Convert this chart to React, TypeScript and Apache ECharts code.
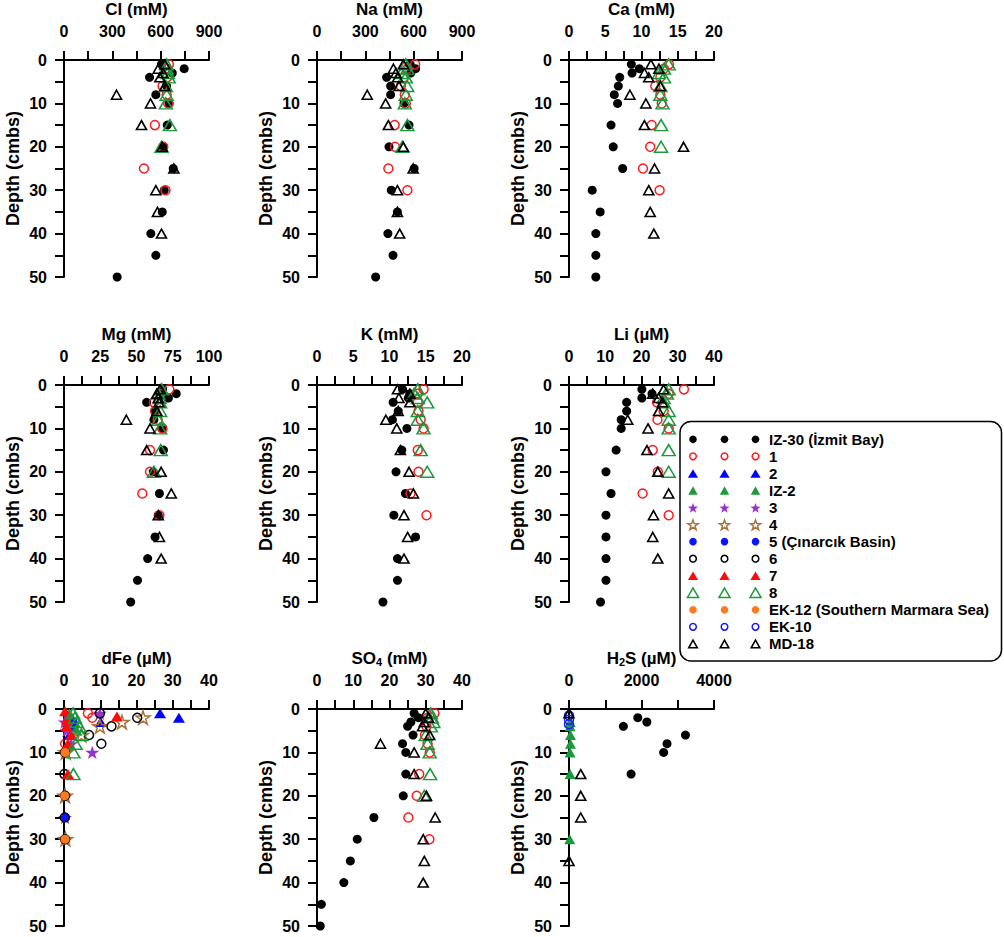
import React, { useEffect, useRef } from "react";
import * as echarts from "echarts";

const FONT = '"Liberation Sans", Arial, Helvetica, sans-serif';

// ---------------- station names (legend order) ----------------
const stationNames = [
  "IZ-30 (İzmit Bay)",
  "1",
  "2",
  "IZ-2",
  "3",
  "4",
  "5 (Çınarcık Basin)",
  "6",
  "7",
  "8",
  "EK-12 (Southern Marmara Sea)",
  "EK-10",
  "MD-18",
];

// ---------------- IZ-30 ----------------
const iz30Depth = [1, 2, 3, 4, 6, 8, 10, 15, 20, 25, 30, 35, 40, 45, 50];
const iz30Cl = [605, 746, 672, 531, 637, 570, 653, 641, 616, 678, 622, 610, 539, 570, 330];
const iz30Na = [578, 612, 582, 432, 457, 457, 540, 571, 447, 603, 461, 499, 440, 472, 364];
const iz30Ca = [8.6, 9.7, 8.7, 7.0, 6.8, 6.25, 6.7, 5.8, 6.1, 7.4, 3.2, 4.3, 3.7, 3.7, 3.7];
const iz30Mg = [68, 77.4, 72, 57, 62.8, 62, 67.4, 68.6, 61.6, 65.8, 65, 62.8, 57.7, 50.7, 46];
const iz30K = [11.8, 12.8, 12.6, 10.5, 11.2, 10.4, 12.4, 11.7, 10.9, 12.2, 10.6, 13.6, 11.1, 11.1, 9.1];
const iz30Li = [20.1, 22.9, 20.1, 15.9, 15.9, 14.4, 14.4, 13.0, 10.2, 11.6, 10.2, 10.2, 10.2, 10.2, 8.7];
const iz30SO4 = [26.8, 28.0, 25.9, 25.0, 26.5, 23.6, 24.5, 24.5, 23.8, 15.7, 11.1, 9.2, 7.4, 1.2, 0.9];
const iz30H2SDepth = [2, 3, 4, 6, 8, 10, 15];
const iz30H2S = [1898, 2148, 1500, 3213, 2704, 2611, 1713];

// ---------------- station 1 ----------------
const st1Depth = [1, 2, 4, 6, 8, 10, 15, 20, 25, 30];
const st1Cl = [651, 637, 640, 612, 637, 647, 564, 616, 496, 630];
const st1Na = [609, 560, 540, 520, 545, 551, 482, 484, 443, 561];
const st1Ca = [13.8, 13.1, 12.6, 11.9, 12.6, 12.8, 11.4, 11.2, 10.2, 12.5];
const st1Mg = [72.6, 66, 62, 62.8, 64.6, 67.9, 59.3, 59.3, 54, 65.8];
const st1K = [14.7, 13.9, 13.9, 14.0, 14.3, 14.7, 13.9, 14.0, 12.9, 15.1];
const st1Li = [31.7, 27.5, 24.3, 26.1, 24.4, 27.5, 23.1, 24.5, 20.3, 27.5];
const st1SO4 = [32.4, 30.5, 30.2, 29.8, 30.5, 31.1, 28.2, 27.5, 25.2, 31.0];
const st1FeDepth = [1, 2, 3, 8];
const st1Fe = [6.6, 7.8, 1.0, 0.3];

// ---------------- station 2 ----------------
const st2FeDepth = [1, 2, 3, 4, 6];
const st2Fe = [26.5, 31.7, 10.1, 2.5, 1.5];

// ---------------- IZ-2 ----------------
const iz2FeDepth = [1, 2, 3, 5];
const iz2Fe = [1.5, 2.2, 3.0, 3.6];
const iz2H2SDepth = [3, 4, 6, 8, 10, 15, 30];
const iz2H2S = [30, 30, 40, 40, 30, 30, 20];

// ---------------- station 3 ----------------
const st3FeDepth = [1, 3, 5, 8, 10, 25];
const st3Fe = [9.9, 0.2, 0.7, 2.0, 7.8, 0.3];

// ---------------- station 4 ----------------
const st4FeDepth = [2, 3, 4, 6, 10, 20, 30];
const st4Fe = [21.8, 16.0, 9.9, 4.8, 0.5, 0.3, 0.4];

// ---------------- station 5 ----------------
const st5FeDepth = [3, 25];
const st5Fe = [2.5, 0.4];

// ---------------- station 6 ----------------
const st6FeDepth = [1, 2, 4, 6, 8, 10, 15, 20, 25, 30];
const st6Fe = [9.9, 20.2, 13.1, 6.9, 10.3, 0.3, 0.1, 0.3, 0.2, 0.3];

// ---------------- station 7 ----------------
const st7FeDepth = [0.5, 1.7, 2.5, 4, 6, 8, 15];
const st7Fe = [0.3, 14.6, 0.8, 0.7, 2.0, 1.1, 1.1];

// ---------------- station 8 ----------------
const st8Depth = [1, 2, 3, 4, 6, 8, 10, 15, 20];
const st8Cl = [637, 637, 645, 650, 632, 637, 632, 657, 605];
const st8Na = [551, 560, 525, 551, 560, 551, 545, 561, 530];
const st8Ca = [13.75, 13.1, 12.4, 13.1, 12.6, 12.6, 12.9, 12.7, 12.7];
const st8Mg = [67.4, 65, 66, 66.3, 66.3, 65, 66.3, 66.7, 62];
const st8K = [13.9, 13.4, 13.9, 15.2, 13.9, 13.9, 14.7, 14.3, 15.2];
const st8Li = [27.5, 27.0, 26.1, 26.1, 27.5, 27.5, 27.5, 27.5, 27.5];
const st8SO4 = [31.4, 31.7, 32.1, 31.4, 30.0, 30.5, 31.1, 31.2, 29.6];
const st8FeDepth = [1, 2, 3, 4, 6, 8, 10, 15];
const st8Fe = [2.5, 3.0, 3.5, 4.2, 4.8, 3.2, 2.6, 2.6];

// ---------------- EK-12 ----------------
const ek12FeDepth = [10, 20, 30];
const ek12Fe = [0.3, 0.2, 0.3];

// ---------------- EK-10 ----------------
const ek10H2SDepth = [1.5, 2.5, 3.5];
const ek10H2S = [0, 0, 0];

// ---------------- MD-18 ----------------
const md18Depth = [1, 2, 3, 4, 6, 8, 10, 15, 20, 25, 30, 35, 40];
const md18Cl = [626, 585, 615, 595, 626, 326, 537, 481, 610, 682, 570, 580, 605];
const md18Na = [536, 474, 490, 500, 509, 312, 426, 443, 536, 597, 499, 499, 513];
const md18Ca = [11.3, 12.4, 10.4, 11.0, 12.6, 8.4, 10.6, 10.4, 15.8, 11.8, 11.0, 11.2, 11.7];
const md18Mg = [66.3, 64, 65, 65.5, 64, 43, 59.3, 57, 67, 74, 65, 65.8, 67];
const md18K = [11.1, 12.8, 11.3, 12.8, 11.2, 9.5, 11.0, 11.5, 12.7, 13.3, 12.0, 12.5, 12.0];
const md18Li = [26.1, 23.1, 24.7, 25.8, 24.7, 16.2, 21.8, 21.5, 24.5, 27.5, 23.3, 23.1, 24.5];
const md18SO4 = [30.0, 30.8, 29.6, 29.1, 31.1, 17.5, 26.8, 26.8, 30.2, 32.6, 29.3, 29.6, 29.3];
const md18H2SDepth = [1, 15, 20, 25, 35];
const md18H2S = [0, 324, 324, 324, 0];

// ---------------- panels ----------------
const panelTitles = ["Cl (mM)", "Na (mM)", "Ca (mM)", "Mg (mM)", "K (mM)", "Li (µM)", "dFe (µM)", "SO{sub|4} (mM)", "H{sub|2}S (µM)"];
const panelMax = [900, 900, 20, 100, 20, 40, 40, 40, 4000];
const panelInterval = [300, 300, 5, 25, 5, 10, 10, 10, 2000];
const depthTicks = { min: 0, max: 50, interval: 10 };

// [panelIndex, station, values, depths]
const seriesTable: [number, string, number[], number[]][] = [
  [0, "IZ-30 (İzmit Bay)", iz30Cl, iz30Depth],
  [0, "1", st1Cl, st1Depth],
  [0, "8", st8Cl, st8Depth],
  [0, "MD-18", md18Cl, md18Depth],
  [1, "IZ-30 (İzmit Bay)", iz30Na, iz30Depth],
  [1, "1", st1Na, st1Depth],
  [1, "8", st8Na, st8Depth],
  [1, "MD-18", md18Na, md18Depth],
  [2, "IZ-30 (İzmit Bay)", iz30Ca, iz30Depth],
  [2, "1", st1Ca, st1Depth],
  [2, "8", st8Ca, st8Depth],
  [2, "MD-18", md18Ca, md18Depth],
  [3, "IZ-30 (İzmit Bay)", iz30Mg, iz30Depth],
  [3, "1", st1Mg, st1Depth],
  [3, "8", st8Mg, st8Depth],
  [3, "MD-18", md18Mg, md18Depth],
  [4, "IZ-30 (İzmit Bay)", iz30K, iz30Depth],
  [4, "1", st1K, st1Depth],
  [4, "8", st8K, st8Depth],
  [4, "MD-18", md18K, md18Depth],
  [5, "IZ-30 (İzmit Bay)", iz30Li, iz30Depth],
  [5, "1", st1Li, st1Depth],
  [5, "8", st8Li, st8Depth],
  [5, "MD-18", md18Li, md18Depth],
  [6, "1", st1Fe, st1FeDepth],
  [6, "2", st2Fe, st2FeDepth],
  [6, "IZ-2", iz2Fe, iz2FeDepth],
  [6, "3", st3Fe, st3FeDepth],
  [6, "4", st4Fe, st4FeDepth],
  [6, "5 (Çınarcık Basin)", st5Fe, st5FeDepth],
  [6, "6", st6Fe, st6FeDepth],
  [6, "7", st7Fe, st7FeDepth],
  [6, "8", st8Fe, st8FeDepth],
  [6, "EK-12 (Southern Marmara Sea)", ek12Fe, ek12FeDepth],
  [7, "IZ-30 (İzmit Bay)", iz30SO4, iz30Depth],
  [7, "1", st1SO4, st1Depth],
  [7, "8", st8SO4, st8Depth],
  [7, "MD-18", md18SO4, md18Depth],
  [8, "IZ-30 (İzmit Bay)", iz30H2S, iz30H2SDepth],
  [8, "IZ-2", iz2H2S, iz2H2SDepth],
  [8, "EK-10", ek10H2S, ek10H2SDepth],
  [8, "MD-18", md18H2S, md18H2SDepth],
];

// ---------------- marker styles ----------------
const STAR_PATH =
  "path://M50,2 L61.23,36.55 L97.55,36.55 L68.17,57.9 L79.39,92.45 L50,71.1 L20.61,92.45 L31.83,57.9 L2.45,36.55 L38.77,36.55 Z";

type MStyle = { shape: "circle" | "triangle" | "star"; w: number; h: number; fill: string | null; stroke: string | null; lw: number };
const markerStyles: Record<string, MStyle> = {
  "IZ-30 (İzmit Bay)": { shape: "circle", w: 9, h: 9, fill: "#000000", stroke: null, lw: 0 },
  "1": { shape: "circle", w: 9, h: 9, fill: null, stroke: "#ff1a1a", lw: 1.5 },
  "2": { shape: "triangle", w: 12, h: 10, fill: "#0000ff", stroke: null, lw: 0 },
  "IZ-2": { shape: "triangle", w: 11, h: 10, fill: "#1a9a3c", stroke: null, lw: 0 },
  "3": { shape: "star", w: 14, h: 14, fill: "#9a2fd0", stroke: null, lw: 0 },
  "4": { shape: "star", w: 14, h: 14, fill: null, stroke: "#a8743c", lw: 1.5 },
  "5 (Çınarcık Basin)": { shape: "circle", w: 9, h: 9, fill: "#0a14ff", stroke: null, lw: 0 },
  "6": { shape: "circle", w: 9, h: 9, fill: null, stroke: "#000000", lw: 1.5 },
  "7": { shape: "triangle", w: 12, h: 10, fill: "#ff0a0a", stroke: null, lw: 0 },
  "8": { shape: "triangle", w: 13, h: 11, fill: null, stroke: "#1a9a3c", lw: 1.5 },
  "EK-12 (Southern Marmara Sea)": { shape: "circle", w: 9, h: 9, fill: "#ff7a1f", stroke: null, lw: 0 },
  "EK-10": { shape: "circle", w: 9, h: 9, fill: null, stroke: "#1a1aff", lw: 1.5 },
  "MD-18": { shape: "triangle", w: 10, h: 9, fill: null, stroke: "#000000", lw: 1.6 },
};

// ---------------- layout ----------------
const colLeft = [64, 317, 569];
const colWidth = 145;
const rowTop = [60, 385, 709];
const rowHeight = 217;

function symbolOf(s: MStyle) {
  if (s.shape === "star") return STAR_PATH;
  return s.shape;
}

function legendMarker(s: MStyle, cx: number, cy: number, scale: number) {
  const style: any = {
    fill: s.fill ? s.fill : "none",
    stroke: s.stroke ? s.stroke : null,
    lineWidth: s.stroke ? s.lw : 0,
  };
  const w = s.w * scale;
  const h = s.h * scale;
  if (s.shape === "circle") {
    return { type: "circle", shape: { cx, cy, r: w / 2 - (s.stroke ? 0.5 : 0) }, style };
  }
  if (s.shape === "triangle") {
    return {
      type: "polygon",
      shape: { points: [[cx, cy - h / 2], [cx + w / 2, cy + h / 2], [cx - w / 2, cy + h / 2]] },
      style,
    };
  }
  const pts: number[][] = [];
  const R = 5.4;
  const r = R * 0.4;
  for (let k = 0; k < 10; k++) {
    const ang = -Math.PI / 2 + (k * Math.PI) / 5;
    const rad = k % 2 === 0 ? R : r;
    pts.push([cx + rad * Math.cos(ang), cy + 0.8 + rad * Math.sin(ang)]);
  }
  return { type: "polygon", shape: { points: pts }, style };
}

function buildOption() {
  const textBase = { fontFamily: FONT, fontWeight: "bold" as const, color: "#000" };
  const grids: any[] = [];
  const xAxes: any[] = [];
  const yAxes: any[] = [];
  for (let p = 0; p < 9; p++) {
    const r = Math.floor(p / 3);
    const c = p % 3;
    grids.push({ left: colLeft[c], top: rowTop[r], width: colWidth, height: rowHeight, containLabel: false });
    xAxes.push({
      type: "value",
      gridIndex: p,
      position: "top",
      min: 0,
      max: panelMax[p],
      interval: panelInterval[p],
      name: panelTitles[p],
      nameLocation: "middle",
      nameGap: 42,
      nameTextStyle: {
        ...textBase,
        fontSize: 17,
        rich: { sub: { ...textBase, fontSize: 11, verticalAlign: "bottom", padding: [7, 0, 0, 0] } },
      },
      axisLine: { show: true, onZero: false, lineStyle: { color: "#000", width: 2 } },
      axisTick: { show: true, length: 9, lineStyle: { color: "#000", width: 2 } },
      minorTick: { show: true, splitNumber: 2, length: 9, lineStyle: { color: "#000", width: 2 } },
      axisLabel: {
        ...textBase,
        fontSize: 16,
        margin: 21,
        showMinLabel: true,
        showMaxLabel: true,
        formatter: (v: number) => String(v),
      },
      splitLine: { show: false },
      minorSplitLine: { show: false },
    });
    yAxes.push({
      type: "value",
      gridIndex: p,
      position: "left",
      inverse: true,
      min: depthTicks.min,
      max: depthTicks.max,
      interval: depthTicks.interval,
      name: "Depth (cmbs)",
      nameLocation: "middle",
      nameGap: 42,
      nameRotate: 90,
      nameTextStyle: { ...textBase, fontSize: 18 },
      axisLine: { show: true, onZero: false, lineStyle: { color: "#000", width: 2 } },
      axisTick: { show: true, length: 9, lineStyle: { color: "#000", width: 2 } },
      minorTick: { show: true, splitNumber: 2, length: 9, lineStyle: { color: "#000", width: 2 } },
      axisLabel: {
        ...textBase,
        fontSize: 16,
        margin: 17,
        showMinLabel: true,
        showMaxLabel: true,
        formatter: (v: number) => String(v),
      },
      splitLine: { show: false },
      minorSplitLine: { show: false },
    });
  }

  const series = seriesTable.map(([p, name, vals, depths]) => {
    const s = markerStyles[name];
    const order = stationNames.indexOf(name);
    return {
      type: "scatter",
      name,
      xAxisIndex: p,
      yAxisIndex: p,
      data: vals.map((v, i) => [v, depths[i]]),
      symbol: symbolOf(s),
      symbolSize: [s.w, s.h],
      symbolKeepAspect: s.shape === "star",
      clip: false,
      silent: true,
      z: 2 + order * 0.01,
      itemStyle: {
        color: s.fill ? s.fill : "rgba(0,0,0,0)",
        borderColor: s.stroke ? s.stroke : "transparent",
        borderWidth: s.stroke ? s.lw : 0,
        opacity: 1,
      },
      emphasis: { disabled: true },
    };
  });

  // legend drawn as a graphic box
  const legendChildren: any[] = [
    {
      type: "rect",
      shape: { x: 680, y: 421.5, width: 321.5, height: 239.5, r: 11 },
      style: { fill: "#fff", stroke: "#000", lineWidth: 1.5 },
    },
  ];
  const legendCols = [693, 724.5, 755.5];
  stationNames.forEach((name, i) => {
    const y = 439.3 + i * 17.05;
    const s = markerStyles[name];
    legendCols.forEach((x) => legendChildren.push(legendMarker(s, x, y, 0.85)));
    legendChildren.push({
      type: "text",
      x: 769,
      y,
      style: {
        text: name,
        fill: "#000",
        font: `bold 15px ${FONT}`,
        textVerticalAlign: "middle",
        verticalAlign: "middle",
        textAlign: "left",
        align: "left",
      },
    });
  });

  return {
    animation: false,
    backgroundColor: "#fff",
    grid: grids,
    xAxis: xAxes,
    yAxis: yAxes,
    series,
    graphic: [{ type: "group", z: 100, children: legendChildren }],
  };
}

export default function App() {
  const ref = useRef<HTMLDivElement>(null);
  useEffect(() => {
    if (!ref.current) return;
    const chart = echarts.init(ref.current, undefined, { renderer: "svg" });
    chart.setOption(buildOption() as any);
    return () => chart.dispose();
  }, []);
  return (
    <div
      ref={ref}
      style={{ position: "absolute", left: 0, top: 0, width: 1004, height: 937, background: "#fff" }}
    />
  );
}
